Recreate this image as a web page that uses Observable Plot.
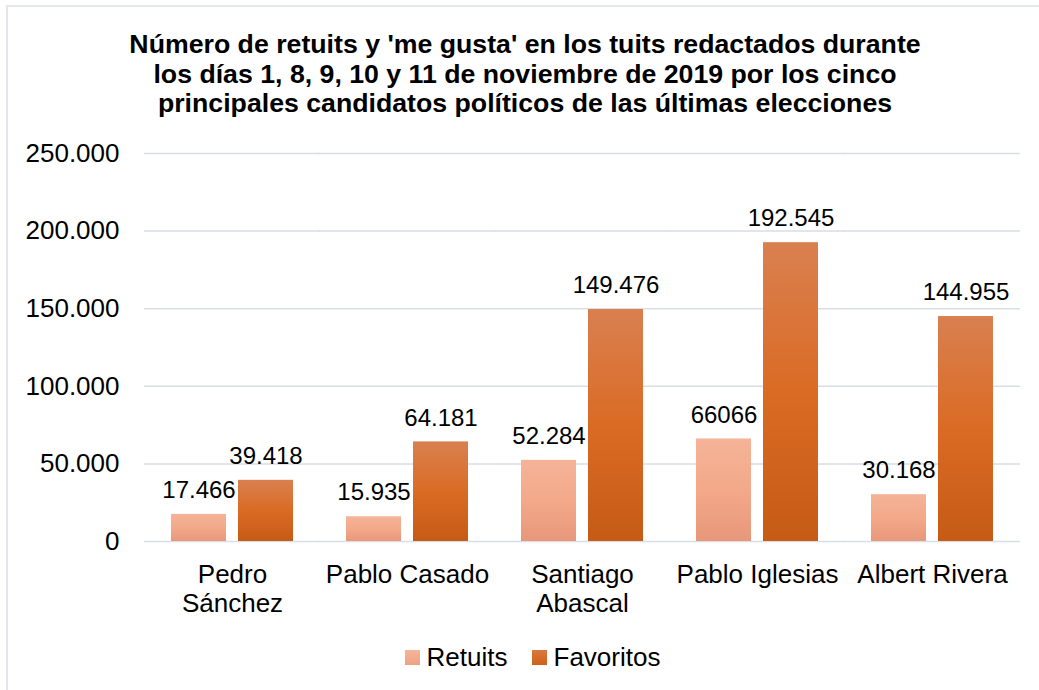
<!DOCTYPE html>
<html>
<head>
<meta charset="utf-8">
<script src="https://cdn.jsdelivr.net/npm/d3@7"></script>
<script src="https://cdn.jsdelivr.net/npm/@observablehq/plot@0.6"></script>
<style>
  html, body { margin: 0; padding: 0; background: #fff; }
  #wrap { position: relative; width: 1039px; height: 690px; overflow: hidden; font-family: "Liberation Sans", Arial, sans-serif; }
  #frame { position: absolute; left: 6px; top: 5px; width: 1100px; height: 800px; border-left: 2px solid #e3e6ec; border-top: 2px solid #e3e6ec; }
  #title { position: absolute; left: 6px; width: 1038px; top: 30px; text-align: center; font-weight: bold; font-size: 26.7px; line-height: 29.5px; color: #000; }
  #chart { position: absolute; left: 0; top: 130px; }
  #legend { position: absolute; left: 0; width: 1065px; top: 640px; text-align: center; font-size: 26px; line-height: 34px; color: #000; }
  .sw { display: inline-block; width: 15px; height: 15px; margin-right: 7px; vertical-align: 1px; }
  .item { display: inline-block; margin: 0 12px; }
</style>
</head>
<body>
<div id="wrap">
  <div id="frame"></div>
  <div id="title">Número de retuits y 'me gusta' en los tuits redactados durante<br>los días 1, 8, 9, 10 y 11 de noviembre de 2019 por los cinco<br>principales candidatos políticos de las últimas elecciones</div>
  <div id="chart"></div>
  <div id="legend"></div>
</div>
<script>
const candidates = ["Pedro Sánchez", "Pablo Casado", "Santiago Abascal", "Pablo Iglesias", "Albert Rivera"];
const candidateLabels = ["Pedro\nSánchez", "Pablo Casado", "Santiago\nAbascal", "Pablo Iglesias", "Albert Rivera"];
const series = ["Retuits", "Favoritos"];
const retuits = [17466, 15935, 52284, 66066, 30168];
const favoritos = [39418, 64181, 149476, 192545, 144955];
const retuitLabels = ["17.466", "15.935", "52.284", "66066", "30.168"];
const favoritoLabels = ["39.418", "64.181", "149.476", "192.545", "144.955"];
const yTicks = [0, 50000, 100000, 150000, 200000, 250000];
const gradientIds = ["gR", "gF"];

const data = [];
candidates.forEach((c, i) => {
  data.push({candidate: c, series: "Retuits", value: retuits[i], label: retuitLabels[i]});
  data.push({candidate: c, series: "Favoritos", value: favoritos[i], label: favoritoLabels[i]});
});

const de = d3.formatLocale({decimal: ",", thousands: ".", grouping: [3], currency: ["", "€"]});
const fmt = de.format(",");

const plot = Plot.plot({
  width: 1039,
  height: 495,
  marginTop: 23,
  marginBottom: 84,
  marginLeft: 145,
  marginRight: 19,
  style: {fontFamily: "'Liberation Sans', Arial, sans-serif", fontSize: "26px", color: "#000", background: "transparent", overflow: "visible"},
  fx: {domain: candidates, paddingInner: 0.3, paddingOuter: 0.15, label: null, axis: null},
  x: {domain: series, paddingInner: 0.18, paddingOuter: 0, axis: null},
  y: {domain: [0, 250000], label: null},
  color: {domain: series, range: gradientIds.map(id => `url(#${id})`)},
  marks: [
    Plot.ruleY(yTicks, {y: d => d, stroke: "#d9dde5", strokeWidth: 1.5, insetLeft: -27, insetRight: -27}),
    Plot.axisY(yTicks, {tickSize: 0, tickPadding: 52, tickFormat: d => fmt(d), fontSize: 26, label: null}),
    Plot.axisFx({anchor: "bottom", tickSize: 0, tickPadding: 21, fontSize: 26, lineHeight: 1.12, label: null,
      tickFormat: d => candidateLabels[candidates.indexOf(d)]}),
    Plot.barY(data, {fx: "candidate", x: "series", y: "value", fill: "series"}),
    Plot.text(data, {fx: "candidate", x: "series", y: "value", text: "label", dy: -24, fontSize: 24, fill: "#000"})
  ]
});

plot.insertAdjacentHTML("afterbegin", `<defs>
  <linearGradient id="gR" x1="0" y1="0" x2="0" y2="1">
    <stop offset="0" stop-color="#f5b397"/>
    <stop offset="0.5" stop-color="#f3a98a"/>
    <stop offset="1" stop-color="#e8977a"/>
  </linearGradient>
  <linearGradient id="gF" x1="0" y1="0" x2="0" y2="1">
    <stop offset="0" stop-color="#d98050"/>
    <stop offset="0.5" stop-color="#da6b24"/>
    <stop offset="1" stop-color="#c65b16"/>
  </linearGradient>
</defs>`);
document.getElementById("chart").appendChild(plot);

const legend = document.getElementById("legend");
const legendColors = [["#f6b59a", "#eea183"], ["#d9783f", "#cf6219"]];
series.forEach((s, i) => {
  const item = document.createElement("span");
  item.className = "item";
  const sw = document.createElement("span");
  sw.className = "sw";
  sw.style.background = `linear-gradient(${legendColors[i][0]}, ${legendColors[i][1]})`;
  item.appendChild(sw);
  item.appendChild(document.createTextNode(s));
  legend.appendChild(item);
});
</script>
</body>
</html>
